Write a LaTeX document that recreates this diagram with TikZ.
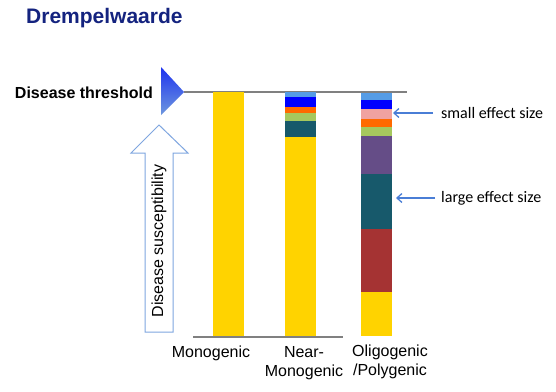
\documentclass[tikz,border=0pt]{standalone}
\usepackage{fontspec}
\usetikzlibrary{arrows.meta}
\setmainfont{Liberation Sans}
\newfontfamily\calfont{Carlito}
\definecolor{titleblue}{HTML}{14237F}
\definecolor{segltblue}{HTML}{559CE6}
\definecolor{segblue}{HTML}{0000FF}
\definecolor{segorange}{HTML}{FF6A00}
\definecolor{seggreen}{HTML}{A6C85E}
\definecolor{segteal}{HTML}{17596B}
\definecolor{segyellow}{HTML}{FFD300}
\definecolor{segpink}{HTML}{F0A2A0}
\definecolor{segpurple}{HTML}{654D87}
\definecolor{segred}{HTML}{A53333}
\definecolor{arrblue}{HTML}{4A7ED6}
\definecolor{hollowblue}{HTML}{7FA6E0}
\definecolor{linegrey}{HTML}{808080}
\begin{document}
\begin{tikzpicture}[x=1pt,y=-1pt,
  lbl/.style={font=\fontsize{16}{19}\selectfont, align=center, inner sep=0pt},
  efflbl/.style={font=\calfont\fontsize{16}{19}\selectfont, anchor=west, inner sep=0pt},
  effarrow/.style={draw=arrblue, line width=1.3pt, -{Straight Barb[length=5pt,width=9pt]}},
  base/.style={draw=linegrey, line width=1.6pt}]
\useasboundingbox (0,0) rectangle (556,391);
\fill[white] (0,0) rectangle (556,391);

% title
\node[anchor=west, inner sep=0pt, text=titleblue, font=\bfseries\fontsize{21}{25}\selectfont] (title) at (26,18) {Drempelwaarde};

% threshold
\node[anchor=east, inner sep=0pt, font=\bfseries\fontsize{16}{19}\selectfont] (thr) at (153,93) {Disease threshold};
\coordinate (thrL) at (184,92);
\coordinate (thrR) at (407,92);
\draw[linegrey, line width=1.4pt] (thrL) -- (thrR);
\shade[top color=segblue!60!arrblue, bottom color=arrblue!80!white] (161,67) -- (184,92) -- (161,115) -- cycle;

% hollow arrow
\draw[hollowblue, line width=1pt, fill=white] (145,332) -- (145,153) -- (131,153) -- (159,125) -- (188,153) -- (173,153) -- (173,332) -- cycle;
\node[lbl, rotate=90] (susc) at (159,241) {Disease susceptibility};

% Monogenic bar
\fill[segyellow] (213,92) rectangle (244,336);

% Near-monogenic bar
\fill[segltblue] (285,92) rectangle (316,97);
\fill[segblue] (285,97) rectangle (316,107);
\fill[segorange] (285,107) rectangle (316,113);
\fill[seggreen] (285,113) rectangle (316,121);
\fill[segteal] (285,121) rectangle (316,137);
\fill[segyellow] (285,137) rectangle (316,336);

% Oligogenic bar
\fill[segltblue] (361,93) rectangle (392,100);
\fill[segblue] (361,100) rectangle (392,109);
\fill[segpink] (361,109) rectangle (392,119);
\fill[segorange] (361,119) rectangle (392,127);
\fill[seggreen] (361,127) rectangle (392,136);
\fill[segpurple] (361,136) rectangle (392,174);
\fill[segteal] (361,174) rectangle (392,229);
\fill[segred] (361,229) rectangle (392,292);
\fill[segyellow] (361,292) rectangle (392,336);

% base line
\coordinate (baseL) at (193,337);
\coordinate (baseR) at (343,337);
\draw[base] (baseL) -- (baseR);

% effect labels
\node[efflbl] (small) at (441,113) {small effect size};
\node[efflbl] (large) at (441,198) {large effect size};
\coordinate (smallTip) at (393,113);
\coordinate (largeTip) at (396,198);
\draw[effarrow] ([xshift=-8pt]small.west) -- (smallTip);
\draw[effarrow] ([xshift=-6pt]large.west) -- (largeTip);

% bottom labels
\node[lbl] (mono) at (211,353) {Monogenic};
\node[lbl] (near) at (304,363) {Near-\\Monogenic};
\node[lbl] (oligo) at (390,362) {Oligogenic\\/Polygenic};
\end{tikzpicture}
\end{document}
